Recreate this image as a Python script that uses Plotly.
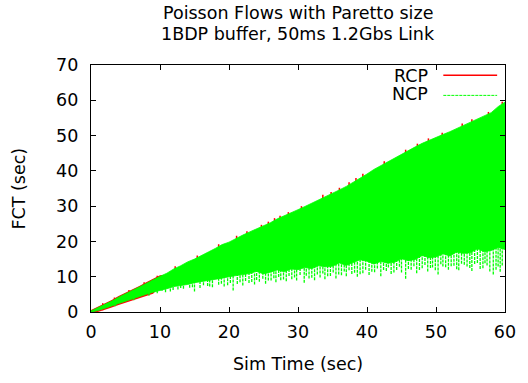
import plotly.graph_objects as go

# ---- data ----
t = [0, 1, 2, 3, 4, 5, 6, 7, 8, 9, 10,
     11, 12, 13, 14, 15, 16, 17, 18, 19, 20,
     21, 22, 23, 24, 25, 26, 27, 28, 29, 30,
     31, 32, 33, 34, 35, 36, 37, 38, 39, 40,
     41, 42, 43, 44, 45, 46, 47, 48, 49, 50,
     51, 52, 53, 54, 55, 56, 57, 58, 59, 60]

ncp_hi = [0.3, 1.2, 2.2, 3.1, 4.2, 5.1, 6.2, 7.1, 8.1, 9.2, 10.1,
          11.0, 12.2, 13.1, 14.2, 15.0, 16.1, 17.0, 18.0, 19.1, 19.8,
          20.9, 21.8, 22.7, 23.6, 24.3, 25.3, 26.4, 27.2, 28.0, 29.0,
          29.9, 30.8, 31.7, 32.6, 33.6, 34.6, 35.6, 36.7, 37.9, 39.1,
          40.4, 41.5, 42.6, 43.7, 44.8, 45.8, 46.8, 47.8, 48.7, 49.6,
          50.3, 51.1, 52.0, 53.0, 53.8, 54.9, 55.6, 56.5, 58.2, 59.5]

ncp_lo = [0.0, 0.4, 1.0, 1.7, 2.4, 3.0, 3.7, 4.4, 5.0, 5.6, 6.2,
          6.6, 7.2, 7.5, 7.8, 8.3, 8.6, 9.0, 9.3, 9.6, 10.0,
          10.4, 10.6, 10.9, 11.5, 10.8, 11.3, 11.9, 11.4, 12.2, 12.0,
          12.6, 12.3, 13.1, 12.8, 13.0, 13.9, 13.2, 14.0, 14.8, 14.4,
          13.6, 14.3, 13.8, 14.1, 15.1, 14.5, 14.9, 16.0, 15.4, 15.6,
          16.5, 15.9, 17.0, 16.6, 16.8, 17.9, 17.1, 17.4, 18.3, 17.7]

# sparse downward excursions of NCP below the dense band (x, bottom, top inside band)
ncp_spk_x = [3.5, 6.2, 8.4, 9.6, 10.8, 11.5, 12.6, 13.4, 14.3, 15.0, 15.8, 16.9, 17.6, 18.5, 19.3,
             20.6, 21.2, 22.0, 22.9, 23.7, 24.4, 25.3, 26.1, 26.8, 27.5, 28.3, 29.1, 29.8,
             30.9, 31.6, 32.4, 33.2, 33.9, 34.7, 35.5, 36.3, 37.0, 37.8, 38.6, 39.4,
             40.3, 41.1, 42.0, 42.8, 43.5, 44.3, 45.0, 45.6, 46.4, 47.2, 48.0, 48.8, 49.5,
             50.3, 51.0, 51.8, 52.6, 53.3, 54.1, 54.9, 55.6, 56.4, 57.1, 57.8, 58.3, 59.0, 59.6,
             10.3, 11.9, 13.0, 14.7, 16.3, 17.2, 18.9, 19.8, 20.2, 21.6, 22.4, 23.3, 24.0,
             24.9, 25.7, 26.5, 27.2, 27.9, 28.7, 29.5, 30.3, 31.2, 32.0, 32.8, 33.6, 34.3,
             35.1, 35.9, 36.7, 37.4, 38.2, 39.0, 39.8, 40.7, 41.5, 42.4, 43.1, 43.9, 44.7,
             46.0, 46.8, 47.6, 48.4, 49.2, 49.9, 50.7, 51.4, 52.2, 53.0, 53.7, 54.5, 55.2,
             56.0, 56.8, 57.4, 58.7, 59.3]
ncp_spk_lo = [1.6, 3.3, 4.6, 5.3, 5.6, 5.8, 6.4, 6.6, 6.9, 5.8, 6.8, 7.4, 7.0, 7.7, 7.2,
              6.1, 7.9, 7.5, 8.2, 7.8, 8.6, 8.0, 8.9, 8.4, 9.0, 8.7, 9.3, 8.9,
              8.3, 9.5, 9.0, 9.8, 9.3, 10.2, 9.5, 10.4, 10.1, 10.8, 10.0, 11.0,
              10.5, 11.3, 10.1, 11.6, 10.8, 11.9, 11.2, 9.4, 12.0, 11.0, 12.4, 11.5, 12.6,
              10.6, 12.9, 12.0, 13.1, 11.8, 13.4, 12.5, 13.6, 12.2, 13.8, 11.5, 10.6, 12.9, 13.2,
              6.0, 6.2, 6.8, 7.0, 7.6, 7.2, 8.0, 7.6, 8.2, 8.4, 8.8, 8.5, 9.1,
              9.4, 8.9, 9.6, 9.9, 9.2, 10.2, 9.8, 10.5, 10.3, 9.7, 10.6, 10.9, 10.1,
              11.2, 10.6, 11.5, 11.8, 11.1, 10.7, 12.0, 11.4, 12.3, 11.9, 12.6, 11.2, 12.8,
              12.2, 13.0, 11.9, 13.3, 12.5, 11.8, 13.5, 12.7, 13.0, 12.1, 13.7, 12.9, 11.6,
              13.9, 12.4, 13.2, 12.0, 11.4]
ncp_spk_top = [2.8, 4.5, 6.0, 6.5, 7.0, 7.3, 7.6, 8.0, 8.2, 8.6, 8.8, 9.2, 9.4, 9.6, 9.9,
               10.3, 10.5, 10.8, 11.0, 11.2, 11.3, 11.5, 11.6, 11.8, 12.0, 12.1, 12.3, 12.4,
               12.6, 12.8, 13.0, 13.1, 13.3, 13.5, 13.8, 14.0, 14.3, 14.6, 14.9, 15.2,
               15.4, 15.6, 15.9, 16.1, 16.3, 16.5, 16.6, 16.8, 17.0, 17.1, 17.3, 17.5, 17.6,
               17.8, 18.0, 18.1, 18.3, 18.5, 18.7, 18.8, 19.0, 19.2, 19.3, 19.5, 19.6, 19.8, 20.0,
               8.0, 9.0, 9.3, 10.0, 10.5, 11.0, 11.5, 12.0, 12.0, 12.5, 12.7, 13.0, 13.5,
               13.2, 13.4, 13.8, 14.0, 14.0, 14.5, 14.5, 14.8, 15.0, 15.0, 15.5, 15.5, 15.7,
               16.2, 16.2, 16.0, 16.3, 16.8, 17.2, 17.2, 16.5, 16.8, 17.0, 17.0, 17.2, 17.8,
               17.8, 18.0, 18.5, 18.7, 18.5, 18.8, 19.3, 19.3, 19.8, 20.0, 20.0, 20.0, 20.2,
               20.8, 20.5, 20.6, 21.2, 21.3]

rcp_hi = [0.6, 1.5, 2.5, 3.4, 4.5, 5.4, 6.5, 7.4, 8.4, 9.5, 10.4,
          10.5, 11.7, 12.6, 13.7, 14.5, 15.6, 16.5, 17.5, 18.6, 19.3,
          20.4, 21.3, 22.2, 23.1, 23.8, 24.8, 25.9, 26.7, 27.5, 28.5,
          29.4, 30.3, 31.2, 32.1, 33.1, 34.1, 35.1, 36.2, 37.4, 38.6,
          39.9, 41.0, 42.1, 43.2, 44.3, 45.3, 46.3, 47.3, 48.2, 49.1,
          49.8, 50.6, 51.5, 52.5, 53.3, 54.4, 55.1, 56.0, 57.7, 59.0]
rcp_lo = [0.0, 0.0, 0.6, 1.3, 2.0, 2.6, 3.3, 4.0, 4.6, 5.2, 7.2,
          7.6, 8.2, 8.5, 8.8, 9.3, 9.6, 10.0, 10.3, 10.6, 11.0,
          11.4, 11.6, 11.9, 12.5, 11.8, 12.3, 12.9, 12.4, 13.2, 13.0,
          13.6, 13.3, 14.1, 13.8, 14.0, 14.9, 14.2, 15.0, 15.8, 15.4,
          14.6, 15.3, 14.8, 15.1, 16.1, 15.5, 15.9, 17.0, 16.4, 16.6,
          17.5, 16.9, 18.0, 17.6, 17.8, 18.9, 18.1, 18.4, 19.3, 18.7]

# RCP peaks that poke above the NCP band
rcp_spk_x = [1.7, 3.4, 5.5, 7.7, 9.6, 12.2, 15.4, 18.5, 21.1, 22.6, 24.7, 25.7, 26.6, 27.4, 28.6,
             30.5, 33.6, 34.8, 36.0, 37.4, 38.4, 39.4, 42.5, 45.6, 47.3, 48.9, 50.9, 53.8,
             55.2, 57.6, 59.6]
rcp_spk_top = [2.5, 4.1, 6.2, 8.4, 10.3, 13.0, 16.0, 19.2, 21.6, 22.9, 24.7, 25.6, 26.6, 27.3, 28.3,
               30.0, 33.2, 34.0, 35.2, 36.8, 38.0, 39.2, 42.7, 46.0, 47.7, 49.2, 50.8, 53.4,
               54.6, 56.7, 59.6]
rcp_spk_bot = [0.5, 2.1, 4.2, 6.4, 8.3, 11.0, 14.0, 17.2, 19.6, 20.9, 22.7, 23.6, 24.6, 25.3, 26.3,
               28.0, 31.2, 32.0, 33.2, 34.8, 36.0, 37.2, 40.7, 44.0, 45.7, 47.2, 48.8, 51.4,
               52.6, 54.7, 57.6]

x_ticks = [0, 10, 20, 30, 40, 50, 60]
y_ticks = [0, 10, 20, 30, 40, 50, 60, 70]
series_names = ["RCP", "NCP"]
title_lines = ["Poisson Flows with Paretto size", "1BDP buffer, 50ms 1.2Gbs Link"]

RED = "#ff0000"
GREEN = "#00ff00"
FONT = "DejaVu Sans, Verdana, sans-serif"
FS = 17.5


def segments(xs, y0s, y1s):
    X, Y = [], []
    for x, a, b in zip(xs, y0s, y1s):
        X += [x, x, None]
        Y += [a, b, None]
    return X, Y


fig = go.Figure()

# RCP (drawn first, mostly hidden under NCP)
fig.add_trace(go.Scatter(x=t + t[::-1], y=rcp_hi + rcp_lo[::-1], fill="toself",
                         fillcolor=RED, line=dict(width=0, color=RED), mode="lines",
                         hoverinfo="skip", showlegend=False))
sx, sy = segments(rcp_spk_x, rcp_spk_bot, rcp_spk_top)
fig.add_trace(go.Scatter(x=sx, y=sy, mode="lines", line=dict(color=RED, width=1.5),
                         hoverinfo="skip", showlegend=False))

# NCP excursions (under the dense band)
sx, sy = segments(ncp_spk_x, ncp_spk_lo, ncp_spk_top)
fig.add_trace(go.Scatter(x=sx, y=sy, mode="lines", line=dict(color=GREEN, width=1.3, dash="3px,1px"),
                         hoverinfo="skip", showlegend=False))
# NCP dense band
fig.add_trace(go.Scatter(x=t + t[::-1], y=ncp_hi + ncp_lo[::-1], fill="toself",
                         fillcolor=GREEN, line=dict(width=0.8, color=GREEN), mode="lines",
                         hoverinfo="skip", showlegend=False))

axis_common = dict(showline=True, linecolor="black", linewidth=1.2, mirror="ticks",
                   ticks="inside", ticklen=5, tickwidth=1, tickcolor="black",
                   showgrid=False, zeroline=False,
                   tickfont=dict(family=FONT, size=FS, color="black"))

fig.update_xaxes(range=[0, 60], tickvals=x_ticks, ticklabelstandoff=4, **axis_common)
fig.update_yaxes(range=[0, 70], tickvals=y_ticks, ticklabelstandoff=8, **axis_common)

fig.update_layout(
    width=528, height=383,
    margin=dict(l=91, r=20, t=65, b=71),
    paper_bgcolor="white", plot_bgcolor="white",
    showlegend=False,
    annotations=[
        dict(text=title_lines[0], xref="paper", yref="paper", x=0.5, y=1, yshift=52,
             xanchor="center", yanchor="middle", showarrow=False,
             font=dict(family=FONT, size=FS, color="black")),
        dict(text=title_lines[1], xref="paper", yref="paper", x=0.5, y=1, yshift=31,
             xanchor="center", yanchor="middle", showarrow=False,
             font=dict(family=FONT, size=FS, color="black")),
        dict(text="Sim Time (sec)", xref="paper", yref="paper", x=0.5, y=0,
             yshift=-52, xanchor="center", yanchor="middle", showarrow=False,
             font=dict(family=FONT, size=FS, color="black")),
        dict(text="FCT (sec)", xref="paper", yref="paper", x=0, y=0.5,
             xshift=-73, xanchor="center", yanchor="middle", textangle=-90, showarrow=False,
             font=dict(family=FONT, size=FS, color="black")),
        dict(text=series_names[0], xref="paper", yref="paper", x=0.82, y=0.955,
             xanchor="right", yanchor="middle", showarrow=False,
             font=dict(family=FONT, size=FS, color="black")),
        dict(text=series_names[1], xref="paper", yref="paper", x=0.82, y=0.882,
             xanchor="right", yanchor="middle", showarrow=False,
             font=dict(family=FONT, size=FS, color="black")),
    ],
    shapes=[
        dict(type="line", xref="paper", yref="paper", x0=0.851, x1=0.981, y0=0.958, y1=0.958,
             line=dict(color=RED, width=1.5)),
        dict(type="line", xref="paper", yref="paper", x0=0.851, x1=0.981, y0=0.877, y1=0.877,
             line=dict(color=GREEN, width=1, dash="3px,1px")),
    ],
)

fig.write_html("out.html")
